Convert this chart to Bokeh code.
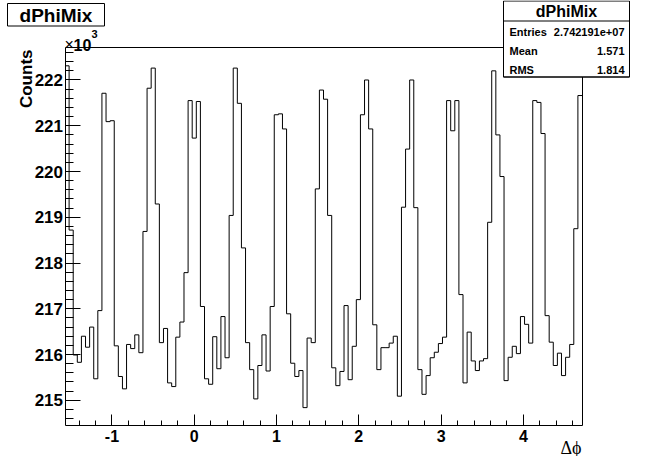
import math
from bokeh.plotting import figure
from bokeh.models import (Range1d, LinearAxis, SingleIntervalTicker, FixedTicker,
                          Label, BoxAnnotation, PrintfTickFormatter)
from bokeh.embed import file_html
from bokeh.resources import INLINE

# ---------------- data ----------------
hist_name = "dPhiMix"
x_min = -math.pi / 2
x_max = 3 * math.pi / 2
# bin contents in units of 10^3 counts (126 bins from -pi/2 to 3pi/2)
counts_k = [
    222.31, 218.72, 215.99, 215.83, 216.40, 216.16, 216.60, 215.47, 216.96, 221.71,
    221.09, 221.11, 216.19, 215.52, 215.25, 216.22, 216.13, 216.43, 216.04, 218.69,
    221.82, 222.26, 219.29, 216.26, 216.57, 215.38, 215.30, 216.38, 216.71, 217.79,
    221.55, 220.73, 221.53, 217.05, 215.47, 215.35, 216.39, 215.69, 216.83, 215.93,
    219.04, 222.26, 221.49, 218.33, 216.26, 215.67, 215.03, 215.76, 216.43, 215.64,
    217.05, 221.24, 221.26, 220.93, 216.89, 215.81, 215.52, 215.65, 214.84, 216.36,
    216.26, 219.62, 221.78, 221.58, 219.04, 215.71, 215.32, 215.63, 217.07, 215.45,
    216.18, 217.20, 221.24, 222.00, 220.93, 216.65, 215.67, 216.15, 216.15, 216.25,
    216.40, 215.09, 219.22, 220.49, 222.00, 219.21, 215.67, 215.13, 215.54, 215.93,
    216.05, 216.24, 216.38, 221.55, 220.89, 221.55, 217.31, 215.38, 216.49, 215.86,
    215.65, 215.86, 215.91, 218.89, 222.20, 220.80, 219.89, 215.43, 215.94, 216.18,
    216.02, 216.83, 216.66, 216.25, 221.55, 221.51, 220.83, 216.85, 216.27, 215.76,
    216.03, 215.54, 215.94, 216.22, 218.75, 221.66,
]
y_min_k = 214.46
y_max_k = 222.71
x_title = "\u0394\u03d5"
y_title = "Counts"
y_exp_parts = ["\u00d7", "10", "3"]
stats_names = ["Entries", "Mean", "RMS"]
stats_values = ["2.742191e+07", "1.571", "1.814"]

# ---------------- histogram outline ----------------
n_bins = len(counts_k)
bw = (x_max - x_min) / n_bins
step_x = [x_min + i * bw for i in range(n_bins)] + [x_max]
step_y = counts_k + [counts_k[-1]]

W, H = 630, 456
# pixel position of the histogram frame on the canvas
PL, PR, PT, PB = 64.5, 581.5, 47.0, 424.5
sxu = (PR - PL) / (x_max - x_min)
syu = (PB - PT) / (y_max_k - y_min_k)
xr = Range1d(x_min - PL / sxu, x_max + (W - PR) / sxu)
yr = Range1d(y_min_k - (H - PB) / syu, y_max_k + PT / syu)

p = figure(width=W, height=H, x_range=xr, y_range=yr, output_backend="svg",
           toolbar_location=None, x_axis_type=None, y_axis_type=None,
           min_border=0, min_border_left=0, min_border_right=0,
           min_border_top=0, min_border_bottom=0,
           background_fill_color="white", border_fill_color="white",
           outline_line_color=None)

p.step(x=step_x, y=step_y, mode="after", line_color="black", line_width=1)

FONT = "Liberation Sans"

xa = LinearAxis(ticker=SingleIntervalTicker(interval=1, num_minor_ticks=5),
                formatter=PrintfTickFormatter(format="%d"),
                fixed_location=y_min_k, bounds=(x_min, x_max))
xa.major_tick_in = 11
xa.major_tick_out = 0
xa.minor_tick_in = 5
xa.minor_tick_out = 0
xa.major_label_text_font = FONT
xa.major_label_text_font_style = "bold"
xa.major_label_text_font_size = "16px"
xa.major_label_text_color = "black"
xa.major_label_standoff = 5
xa.axis_line_color = "black"
xa.major_tick_line_color = "black"
xa.minor_tick_line_color = "black"
p.add_layout(xa, "below")

ya = LinearAxis(ticker=SingleIntervalTicker(interval=1, num_minor_ticks=5),
                fixed_location=x_min, bounds=(y_min_k, y_max_k))
ya.major_tick_in = 15
ya.major_tick_out = 0
ya.minor_tick_in = 8
ya.minor_tick_out = 0
ya.major_label_text_font = FONT
ya.major_label_text_font_style = "bold"
ya.major_label_text_font_size = "17px"
ya.major_label_text_color = "black"
ya.major_label_standoff = 2
ya.axis_line_color = "black"
ya.major_tick_line_color = "black"
ya.minor_tick_line_color = "black"
p.add_layout(ya, "left")

for side, loc, bnds in (("above", y_max_k, (x_min, x_max)),
                        ("right", x_max, (y_min_k, y_max_k))):
    ax = LinearAxis(ticker=FixedTicker(ticks=[]), fixed_location=loc, bounds=bnds)
    ax.major_tick_in = 0
    ax.major_tick_out = 0
    ax.minor_tick_in = 0
    ax.minor_tick_out = 0
    ax.major_label_text_font_size = "0px"
    ax.axis_line_color = "black"
    p.add_layout(ax, side)


# canvas pixel -> frame screen units (frame == whole canvas)
def sx(px):
    return px


def sy(py):
    return H - py


def box(l, r, t, b, fill="white"):
    p.add_layout(BoxAnnotation(left=sx(l), right=sx(r), top=sy(t), bottom=sy(b),
                               left_units="screen", right_units="screen",
                               top_units="screen", bottom_units="screen",
                               fill_color=fill, fill_alpha=1.0 if fill else 0,
                               line_color="black", line_width=1, line_alpha=1.0))


def label(text, x, y, size, align="left", baseline="middle", bold=True,
          font=FONT, angle=0):
    p.add_layout(Label(x=sx(x), y=sy(y), x_units="screen", y_units="screen",
                       text=text, text_font=font, text_font_size=f"{size}px",
                       text_font_style="bold" if bold else "normal",
                       text_align=align, text_baseline=baseline, angle=angle,
                       angle_units="deg", text_color="black"))


# title box
box(7, 104, 3, 25.5)
label(hist_name, 55.5, 14.5, 19, align="center")

# stats box
box(503, 629, 0.5, 76.5)
box(503, 629, 20.5, 76.5, fill=None)
label(hist_name, 566, 11, 16, align="center")
rows_y = [31.5, 50, 69.5]
for name, val, ry in zip(stats_names, stats_values, rows_y):
    label(name, 509, ry, 11, align="left")
    label(val, 624, ry, 11, align="right")

# axis titles
label(y_title, 25.5, 49, 17, align="right", angle=90)
label(y_exp_parts[0], 64, 44, 16, align="left", baseline="alphabetic", bold=False)
label(y_exp_parts[1], 73, 44, 16, align="left", baseline="alphabetic")
label(y_exp_parts[2], 91, 33, 11, align="left", baseline="alphabetic")
label(x_title, 581, 447, 18, align="right", bold=False, font="Liberation Serif")

open("out.html", "w").write(file_html(p, INLINE))
